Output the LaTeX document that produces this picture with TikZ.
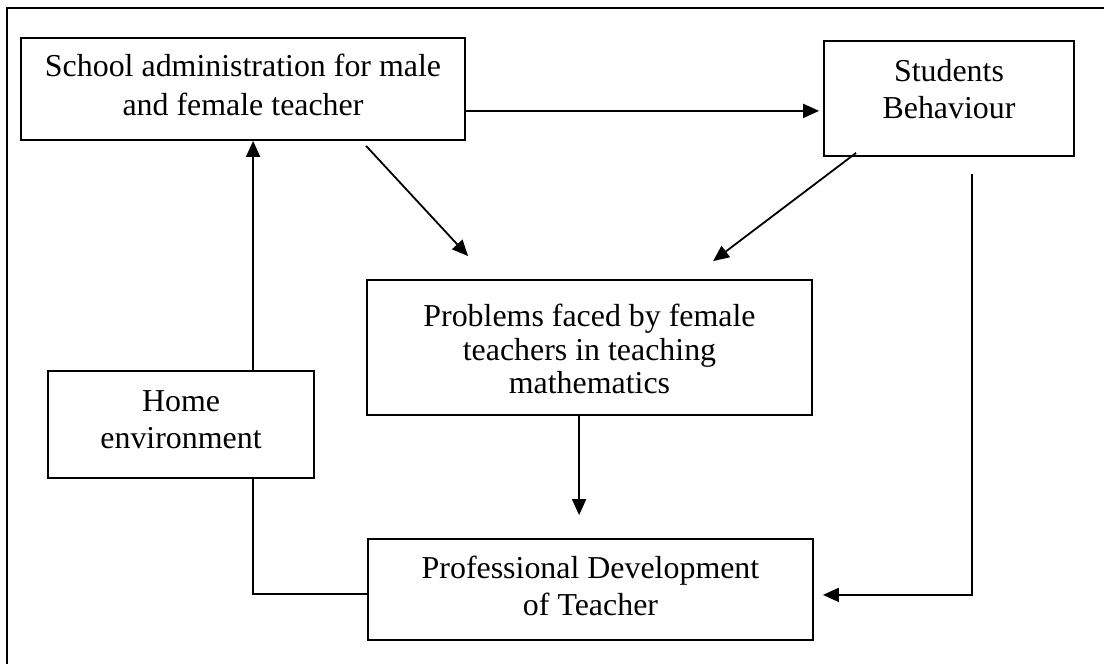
\documentclass[tikz,border=0pt]{standalone}
\usepackage{fontspec}
\setmainfont{Liberation Serif}
\usetikzlibrary{arrows.meta,calc}
\newcommand{\mylines}[3]{\begin{tabular}{@{}c@{}}\rule{0pt}{#1}#3\\[#2]\end{tabular}}
\begin{document}
\begin{tikzpicture}[x=1pt,y=-1pt,
  box/.style={draw, line width=1.8pt, inner sep=0pt, align=center},
  conn/.style={line width=1.8pt},
  arr/.style={conn, -{Triangle[length=16pt,width=14pt]}},
  frame/.style={line width=2.2pt}
]
\useasboundingbox (0,0) rectangle (1104,664);
\draw[frame] (7,664) -- (7,8) -- (1104,8);

\node[box, minimum width=444pt, minimum height=102pt, font=\fontsize{31.9}{38.3}\selectfont]
  (school) at (243,89) {\mylines{0pt}{1.6pt}{School administration for male\\and female teacher}};
\node[box, minimum width=250pt, minimum height=115pt, font=\fontsize{31.9}{37}\selectfont]
  (stud) at (949,98.5) {\mylines{0pt}{12.8pt}{Students\\Behaviour}};
\node[box, minimum width=445pt, minimum height=135pt, font=\fontsize{31.9}{33.2}\selectfont]
  (prob) at (589.5,347.5) {\mylines{35.3pt}{0pt}{Problems faced by female\\teachers in teaching\\mathematics}};
\node[box, minimum width=266pt, minimum height=107pt, font=\fontsize{31.9}{36.6}\selectfont]
  (home) at (181,424.5) {\mylines{0pt}{3.6pt}{Home\\environment}};
\node[box, minimum width=445pt, minimum height=101pt, font=\fontsize{31.9}{37.7}\selectfont]
  (prof) at (590.5,589.5) {\mylines{0pt}{0pt}{Professional Development\\of Teacher}};

% connectors
\draw[arr] ($(school.south east)+(0,-30)$) -- ($(stud.south west)+(-4,-46)$);
\draw[arr] ($(school.south west)+(346,5)$) -- ($(prob.north west)+(102,-23)$);
\draw[arr] ($(stud.south west)+(33,-4)$) -- ($(prob.north west)+(347,-18)$);
\draw[arr] ($(prob.south west)+(213,0)$) -- ($(prof.north west)+(212,-23)$);
\draw[arr] ($(home.north west)+(206,0)$) -- ($(school.south west)+(233,0)$);
\draw[conn] ($(home.south west)+(206,0)$) |- ($(prof.south west)+(0,-47)$);
\draw[arr] ($(stud.south west)+(149,17)$) |- ($(prof.south east)+(9,-46)$);
\end{tikzpicture}
\end{document}
